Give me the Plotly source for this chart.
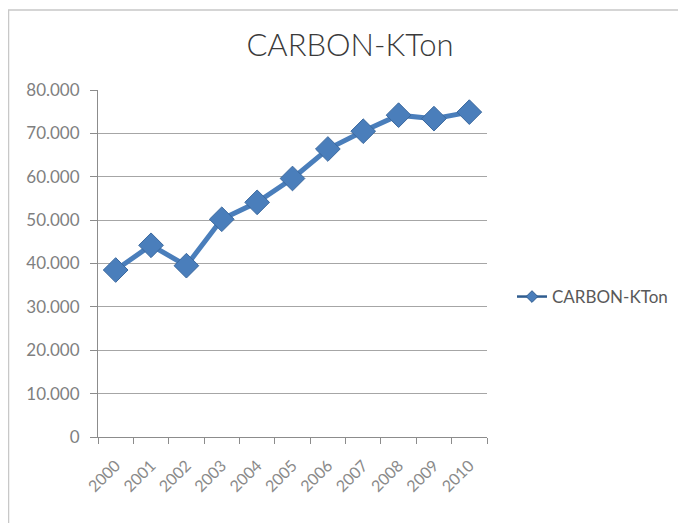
import plotly.graph_objects as go

years = ["2000", "2001", "2002", "2003", "2004", "2005", "2006", "2007", "2008", "2009", "2010"]
carbon_kton = [38500, 44200, 39500, 50200, 54100, 59600, 66400, 70500, 74200, 73400, 74900]
y_ticks = [0, 10000, 20000, 30000, 40000, 50000, 60000, 70000, 80000]
series_name = "CARBON-KTon"
chart_title = "CARBON-KTon"

# page body adds ~8px offset; layout is expressed in screen px minus that offset
OFF = 8
W, H = 686, 523
L, T = 98 - OFF, 90 - OFF
pw, ph = 389, 347
R, B = W - L - pw, H - T - ph

FONT = "Lato, Open Sans, sans-serif"
BLUE = "#4A7EBB"

fig = go.Figure()
fig.add_trace(go.Scatter(
    x=years, y=carbon_kton, name=series_name, mode="lines+markers",
    line=dict(color=BLUE, width=5), showlegend=False,
    marker=dict(symbol="diamond", size=19, color=BLUE,
                line=dict(color="#3A689E", width=1)),
))
# legend entry (Excel-style thin line + small diamond)
fig.add_trace(go.Scatter(
    x=[None], y=[None], name=series_name, mode="lines+markers",
    line=dict(color="#2F5C8F", width=2.5),
    marker=dict(symbol="diamond", size=9, color=BLUE, line=dict(color="#2F5C8F", width=1)),
))

# chart-area border (only top and left edges visible in the frame)
fig.add_shape(type="rect", xref="paper", yref="paper",
              x0=(0.5 - L) / pw, x1=(720 - L) / pw,
              y0=(H - B - 560) / ph, y1=(H - B - (10 - OFF)) / ph,
              line=dict(color="#C8C8C8", width=1.5), fillcolor="rgba(0,0,0,0)", layer="below")

fig.update_layout(
    width=W, height=H,
    margin=dict(l=L, r=R, t=T, b=B, autoexpand=False),
    paper_bgcolor="white", plot_bgcolor="white",
    separators=",.",
    font=dict(family=FONT, color="#7F7F7F", size=15),
    title=dict(text=chart_title, x=(350 - OFF) / W, xanchor="center",
               y=1 - (45 - OFF) / H, yanchor="middle",
               font=dict(size=31, color="#3A3A3A", family=FONT, weight=300)),
    showlegend=True,
    legend=dict(x=(512 - OFF - L) / pw, xanchor="left", y=(H - B - (297 - OFF)) / ph, yanchor="middle",
                font=dict(size=17, color="#595959"), bgcolor="rgba(0,0,0,0)"),
    xaxis=dict(type="category", range=[-0.5, 10.5], tickangle=-45,
               showline=True, linecolor="#8C8C8C", linewidth=1,
               ticks="outside", ticklen=6, tickcolor="#8C8C8C", tickson="boundaries",
               ticklabelstandoff=12,
               showgrid=False, tickfont=dict(size=16, color="#8A8A8A")),
    yaxis=dict(range=[0, 80000], tickvals=y_ticks, tickformat=",d",
               showline=True, linecolor="#8C8C8C", linewidth=1,
               ticks="outside", ticklen=7, tickcolor="#8C8C8C", ticklabelstandoff=7,
               showgrid=True, gridcolor="#A6A6A6", gridwidth=1.3, zeroline=False,
               tickfont=dict(size=17, color="#7F7F7F")),
)

fig.write_html("out.html")
